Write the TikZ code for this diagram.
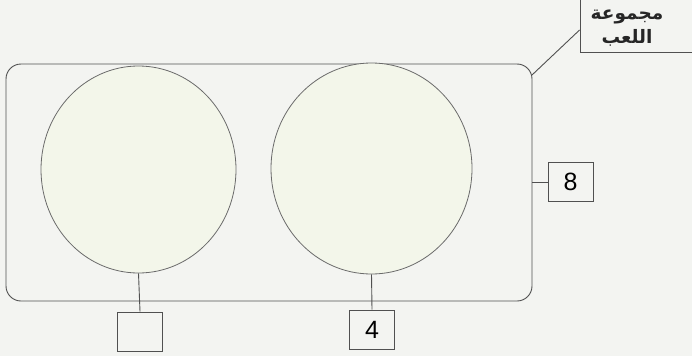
\documentclass[tikz,border=0pt]{standalone}
\usepackage{fontspec}
\setmainfont{Liberation Sans}
\newfontfamily\arabicfont[Script=Arabic]{DejaVu Sans}
\TeXXeTstate=1
\definecolor{bgcol}{HTML}{F3F4F1}
\definecolor{fillcol}{HTML}{F3F6EA}
\definecolor{linecol}{HTML}{505050}
\usetikzlibrary{shapes.geometric}
\begin{document}
\begin{tikzpicture}[x=1pt,y=-1pt,
  ln/.style={draw=linecol,line width=0.9pt},
  setbox/.style={ln,rounded corners=15pt,minimum width=526pt,minimum height=237pt,inner sep=0pt},
  circ/.style={ellipse,ln,draw=linecol!85,line width=0.8pt,fill=fillcol,inner sep=0pt},
  numbox/.style={ln,rectangle,minimum width=45pt,minimum height=39pt,inner sep=0pt,font=\fontsize{25}{25}\selectfont},
  artext/.style={font=\arabicfont\bfseries\fontsize{18.5}{24}\selectfont,align=center,text=black!85}
]
\useasboundingbox (0,0) rectangle (692,356);
\fill[bgcol] (0,0) rectangle (692,356);
\node[setbox] (set) at (269,182.5) {};
\node[circ,minimum width=195pt,minimum height=207pt] (A) at (138.5,169.5) {};
\node[circ,minimum width=201pt,minimum height=211pt] (B) at (371.5,168.5) {};
\node[numbox] (boxA) at (140,331.5) {};
\node[numbox] (boxB) at (372,329.5) {4};
\node[numbox] (boxS) at (570.5,182) {8};
\draw[ln] (A.south) -- (boxA.north);
\draw[ln] (B.south) -- (boxB.north);
\draw[ln] (set.east |- boxS.west) -- (boxS.west);
\node[ln,rectangle,minimum width=130pt,minimum height=72pt,inner sep=0pt] (labelbox) at (645,16) {};
\node[artext] (labeltext) at (627,28.5) {\beginR مجموعة\endR\\\beginR اللعب\endR};
\coordinate (corner) at (532,75);
\draw[ln] (corner) -- (labelbox.west |- 0,30);
\end{tikzpicture}
\end{document}
